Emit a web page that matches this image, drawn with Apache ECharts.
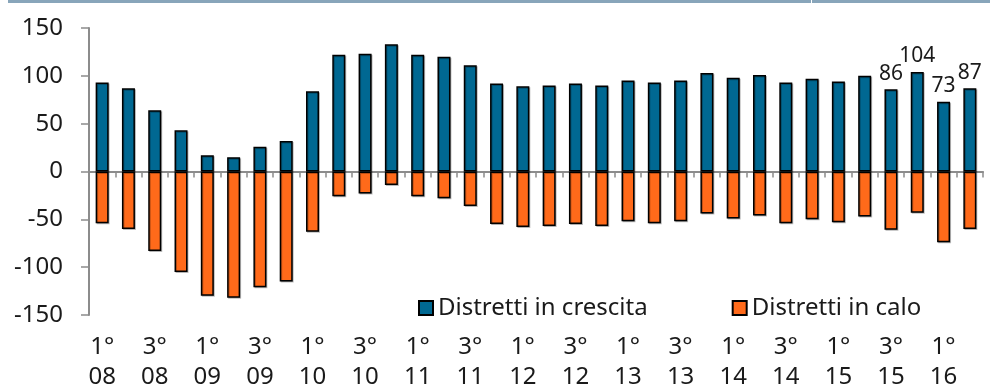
<!DOCTYPE html>
<html>
<head>
<meta charset="utf-8">
<style>
  html, body { margin: 0; padding: 0; background: #fff; }
  #chart { width: 990px; height: 386px; }
</style>
<script src="https://cdn.jsdelivr.net/npm/echarts@6/dist/echarts.min.js"></script>
</head>
<body>
<div id="chart"></div>
<script>
// Quarterly categories, Q1 2008 to Q2 2016
const categories = [
  '1°\n08', '2°\n08', '3°\n08', '4°\n08',
  '1°\n09', '2°\n09', '3°\n09', '4°\n09',
  '1°\n10', '2°\n10', '3°\n10', '4°\n10',
  '1°\n11', '2°\n11', '3°\n11', '4°\n11',
  '1°\n12', '2°\n12', '3°\n12', '4°\n12',
  '1°\n13', '2°\n13', '3°\n13', '4°\n13',
  '1°\n14', '2°\n14', '3°\n14', '4°\n14',
  '1°\n15', '2°\n15', '3°\n15', '4°\n15',
  '1°\n16', '2°\n16'
];

// Number of districts growing / shrinking in each quarter
const inCrescita = [93, 87, 64, 43, 17, 15, 26, 32, 84, 122, 123, 133, 122, 120, 111, 92,
  89, 90, 92, 90, 95, 93, 95, 103, 98, 101, 93, 97, 94, 100, 86, 104, 73, 87];
const inCalo = [-54, -60, -83, -105, -130, -132, -121, -115, -63, -26, -23, -14, -26, -28, -36, -55,
  -58, -57, -55, -57, -52, -54, -52, -44, -49, -46, -54, -50, -53, -47, -61, -43, -74, -60];

// Quarters whose growth value is printed above the bar
const labelledQuarters = [30, 31, 32, 33];

const yTicks = { min: -150, max: 150, step: 50 };

const FONT = '"Noto Sans", "Open Sans", sans-serif';
const TEXT = '#1a1a1a';
const AXIS = '#8c8c8c';

const chart = echarts.init(document.getElementById('chart'), null, { renderer: 'canvas' });

const barStyle = (color) => ({
  color: color,
  borderColor: '#000',
  borderWidth: 1.5,
  shadowColor: 'rgba(0,0,0,0.25)',
  shadowOffsetX: 1,
  shadowOffsetY: 1,
  shadowBlur: 0
});

chart.setOption({
  animation: false,
  backgroundColor: '#fff',
  textStyle: { fontFamily: FONT, color: TEXT },
  graphic: [
    { type: 'rect', shape: { x: 8, y: 0, width: 982, height: 3 }, style: { fill: '#88a5ba' } },
    { type: 'rect', shape: { x: 811, y: 0, width: 1, height: 3 }, style: { fill: '#ffffff' } }
  ],
  grid: { left: 89, right: 7, top: 28, bottom: 71, containLabel: false, outerBoundsMode: 'none' },
  legend: {
    left: 413,
    top: 291,
    itemWidth: 14,
    itemHeight: 14,
    itemGap: 84,
    icon: 'rect',
    textStyle: { fontFamily: FONT, fontSize: 24, color: TEXT, padding: [0, 0, 0, 0] },
    data: ['Distretti in crescita', 'Distretti in calo']
  },
  xAxis: [
    {
      type: 'category',
      data: categories,
      position: 'bottom',
      axisLine: { onZero: true, lineStyle: { color: AXIS, width: 2 } },
      axisTick: { show: true, length: 6, inside: false, lineStyle: { color: AXIS, width: 1.5 } },
      axisLabel: { show: false },
      splitLine: { show: false }
    },
    {
      type: 'category',
      data: categories,
      position: 'bottom',
      axisLine: { show: false, onZero: false },
      axisTick: { show: false },
      axisLabel: {
        interval: 1,
        margin: 17,
        fontFamily: FONT,
        fontSize: 24,
        lineHeight: 30,
        color: TEXT
      },
      splitLine: { show: false }
    }
  ],
  yAxis: {
    type: 'value',
    min: yTicks.min,
    max: yTicks.max,
    interval: yTicks.step,
    axisLine: { show: true, lineStyle: { color: AXIS, width: 2 } },
    axisTick: { show: true, length: 8, lineStyle: { color: AXIS, width: 1.5 } },
    axisLabel: { margin: 26, fontFamily: FONT, fontSize: 24, color: TEXT },
    splitLine: { show: false }
  },
  series: [
    {
      name: 'Distretti in crescita',
      type: 'bar',
      xAxisIndex: 0,
      barWidth: 13,
      barGap: '-100%',
      itemStyle: barStyle('#006892'),
      data: inCrescita.map((v, i) => labelledQuarters.includes(i)
        ? { value: v, label: { show: true, position: 'top', distance: 5, fontFamily: FONT, fontSize: 21, color: TEXT } }
        : v)
    },
    {
      name: 'Distretti in calo',
      type: 'bar',
      xAxisIndex: 0,
      barWidth: 13,
      barGap: '-100%',
      itemStyle: barStyle('#ff6a1a'),
      data: inCalo
    }
  ]
});
</script>
</body>
</html>
